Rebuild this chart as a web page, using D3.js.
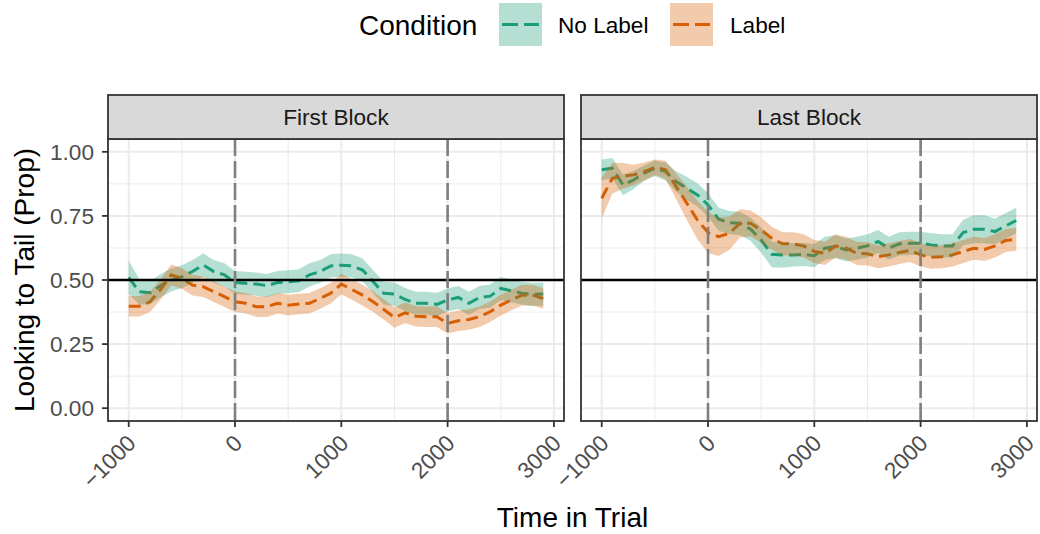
<!DOCTYPE html>
<html>
<meta charset="utf-8">
<style>
  body { margin: 0; background: #fff; }
  text { font-family: "Liberation Sans", Arial, sans-serif; }
  .grid-major { stroke: #ebebeb; stroke-width: 2; }
  .grid-minor { stroke: #ebebeb; stroke-width: 1; }
</style>
<body>
<script src="https://d3js.org/d3.v7.min.js"></script>
<script>
  let width = 1040, height = 534;

  // time bins, ms
  let times = d3.range(-1000, 3000, 100);
  let conditions = ["No Label", "Label"];
  let colors = ["#1B9E77", "#D95F02"];
  let blocks = ["First Block", "Last Block"];
  let xTicks = [-1000, 0, 1000, 2000, 3000];
  let yTicks = [0, 0.25, 0.5, 0.75, 1];

  // First Block
  let firstNoLabel = [0.51, 0.454, 0.45, 0.478, 0.50, 0.513, 0.533, 0.559, 0.533, 0.52,
    0.49, 0.487, 0.484, 0.478, 0.49, 0.493, 0.497, 0.52, 0.533, 0.555,
    0.558, 0.555, 0.539, 0.493, 0.448, 0.445, 0.424, 0.409, 0.409, 0.405,
    0.422, 0.432, 0.409, 0.432, 0.437, 0.467, 0.458, 0.448, 0.444, 0.445];
  let firstNoLabelCI = [0.065, 0.05, 0.045, 0.045, 0.045, 0.045, 0.045, 0.045, 0.045, 0.045,
    0.045, 0.045, 0.045, 0.045, 0.045, 0.045, 0.045, 0.045, 0.045, 0.045,
    0.045, 0.045, 0.045, 0.045, 0.045, 0.045, 0.045, 0.045, 0.045, 0.045,
    0.045, 0.045, 0.045, 0.045, 0.045, 0.045, 0.045, 0.045, 0.045, 0.045];
  let firstLabel = [0.398, 0.398, 0.415, 0.463, 0.52, 0.506, 0.48, 0.474, 0.454, 0.435,
    0.415, 0.409, 0.396, 0.396, 0.409, 0.402, 0.406, 0.409, 0.428, 0.448,
    0.484, 0.463, 0.441, 0.415, 0.385, 0.354, 0.372, 0.359, 0.357, 0.357,
    0.331, 0.341, 0.346, 0.357, 0.376, 0.402, 0.422, 0.441, 0.441, 0.428];
  let firstLabelCI = [0.04, 0.04, 0.04, 0.04, 0.04, 0.04, 0.04, 0.04, 0.04, 0.04,
    0.04, 0.04, 0.04, 0.04, 0.04, 0.04, 0.04, 0.04, 0.04, 0.04,
    0.04, 0.04, 0.04, 0.04, 0.04, 0.04, 0.04, 0.04, 0.04, 0.04,
    0.04, 0.04, 0.04, 0.04, 0.04, 0.04, 0.04, 0.04, 0.04, 0.04];

  // Last Block
  let lastNoLabel = [0.93, 0.936, 0.871, 0.89, 0.917, 0.936, 0.923, 0.884, 0.858, 0.832,
    0.793, 0.737, 0.724, 0.721, 0.698, 0.656, 0.60, 0.598, 0.598, 0.60,
    0.595, 0.624, 0.63, 0.617, 0.624, 0.633, 0.65, 0.624, 0.641, 0.643,
    0.643, 0.637, 0.633, 0.633, 0.685, 0.698, 0.698, 0.689, 0.711, 0.732];
  let lastNoLabelCI = [0.04, 0.04, 0.04, 0.035, 0.03, 0.03, 0.035, 0.04, 0.045, 0.045,
    0.045, 0.045, 0.045, 0.045, 0.045, 0.05, 0.05, 0.05, 0.045, 0.045,
    0.045, 0.045, 0.045, 0.045, 0.045, 0.045, 0.045, 0.045, 0.045, 0.045,
    0.045, 0.045, 0.045, 0.045, 0.05, 0.055, 0.055, 0.05, 0.05, 0.05];
  let lastLabel = [0.819, 0.897, 0.906, 0.91, 0.923, 0.94, 0.93, 0.865, 0.80, 0.734,
    0.685, 0.669, 0.682, 0.721, 0.721, 0.695, 0.663, 0.641, 0.641, 0.633,
    0.611, 0.604, 0.633, 0.624, 0.604, 0.602, 0.591, 0.598, 0.607, 0.615,
    0.598, 0.589, 0.591, 0.598, 0.611, 0.624, 0.619, 0.633, 0.654, 0.659];
  let lastLabelCI = [0.08, 0.06, 0.05, 0.04, 0.035, 0.03, 0.035, 0.05, 0.065, 0.075,
    0.08, 0.075, 0.065, 0.055, 0.05, 0.05, 0.045, 0.045, 0.045, 0.045,
    0.045, 0.045, 0.045, 0.045, 0.045, 0.045, 0.045, 0.045, 0.045, 0.045,
    0.045, 0.045, 0.045, 0.045, 0.045, 0.045, 0.045, 0.045, 0.045, 0.045];

  let panelData = [
    [{ mean: firstNoLabel, ci: firstNoLabelCI }, { mean: firstLabel, ci: firstLabelCI }],
    [{ mean: lastNoLabel, ci: lastNoLabelCI }, { mean: lastLabel, ci: lastLabelCI }]
  ];

  let svg = d3.select("body").append("svg")
    .attr("width", width)
    .attr("height", height);

  let panelLeft = [108, 581];
  let panelWidth = 456;
  let panelTop = 139, panelBottom = 421;
  let stripTop = 95;

  let y = d3.scaleLinear().domain([-0.05, 1.05]).range([panelBottom, panelTop]);

  function drawPanel(p) {
    let x = d3.scaleLinear().domain([-1195, 3095]).range([panelLeft[p], panelLeft[p] + panelWidth]);
    let g = svg.append("g");

    // minor grid
    [-500, 500, 1500, 2500].forEach(v => {
      g.append("line").attr("class", "grid-minor")
        .attr("x1", x(v)).attr("x2", x(v)).attr("y1", panelTop).attr("y2", panelBottom);
    });
    [0.125, 0.375, 0.625, 0.875].forEach(v => {
      g.append("line").attr("class", "grid-minor")
        .attr("x1", x.range()[0]).attr("x2", x.range()[1]).attr("y1", y(v)).attr("y2", y(v));
    });
    // major grid
    xTicks.forEach(v => {
      g.append("line").attr("class", "grid-major")
        .attr("x1", x(v)).attr("x2", x(v)).attr("y1", panelTop).attr("y2", panelBottom);
    });
    yTicks.forEach(v => {
      g.append("line").attr("class", "grid-major")
        .attr("x1", x.range()[0]).attr("x2", x.range()[1]).attr("y1", y(v)).attr("y2", y(v));
    });

    let line = d3.line().x((d, i) => x(times[i])).y(d => y(d));

    // lines first, ribbons on top (as in the original)
    panelData[p].forEach((s, k) => {
      g.append("path")
        .attr("d", line(s.mean))
        .attr("fill", "none")
        .attr("stroke", colors[k])
        .attr("stroke-width", 3)
        .attr("stroke-dasharray", "12,6");
    });
    panelData[p].forEach((s, k) => {
      let area = d3.area()
        .x((d, i) => x(times[i]))
        .y0((d, i) => y(d - s.ci[i]))
        .y1((d, i) => y(d + s.ci[i]));
      g.append("path")
        .attr("d", area(s.mean))
        .attr("fill", colors[k])
        .attr("fill-opacity", 0.33);
    });

    // reference lines
    g.append("line")
      .attr("x1", x.range()[0]).attr("x2", x.range()[1])
      .attr("y1", y(0.5)).attr("y2", y(0.5))
      .attr("stroke", "#000").attr("stroke-width", 2.6);
    [0, 2000].forEach(v => {
      g.append("line")
        .attr("x1", x(v)).attr("x2", x(v)).attr("y1", panelTop).attr("y2", panelBottom)
        .attr("stroke", "#7f7f7f").attr("stroke-width", 2.6)
        .attr("stroke-dasharray", "17,5");
    });

    // border
    g.append("rect")
      .attr("x", x.range()[0]).attr("y", panelTop)
      .attr("width", panelWidth).attr("height", panelBottom - panelTop)
      .attr("fill", "none").attr("stroke", "#333").attr("stroke-width", 1.8);

    // strip
    g.append("rect")
      .attr("x", x.range()[0]).attr("y", stripTop)
      .attr("width", panelWidth).attr("height", panelTop - stripTop)
      .attr("fill", "#d9d9d9").attr("stroke", "#333").attr("stroke-width", 1.8);
    g.append("text")
      .attr("x", x.range()[0] + panelWidth / 2).attr("y", (stripTop + panelTop) / 2 + 8)
      .attr("text-anchor", "middle")
      .attr("font-size", 22.6).attr("fill", "#1a1a1a")
      .text(blocks[p]);

    // x axis
    xTicks.forEach(v => {
      g.append("line")
        .attr("x1", x(v)).attr("x2", x(v)).attr("y1", panelBottom).attr("y2", panelBottom + 6)
        .attr("stroke", "#333").attr("stroke-width", 1.8);
      g.append("text")
        .attr("transform", `translate(${x(v) - 3},${panelBottom + 12}) rotate(-45)`)
        .attr("text-anchor", "end")
        .attr("dy", "0.72em")
        .attr("font-size", 22.6).attr("fill", "#4d4d4d")
        .text(d3.format("")(v).replace("-", "\u2212"));
    });

    // y axis on left panel only
    if (p === 0) {
      yTicks.forEach(v => {
        g.append("line")
          .attr("x1", x.range()[0] - 6).attr("x2", x.range()[0])
          .attr("y1", y(v)).attr("y2", y(v))
          .attr("stroke", "#333").attr("stroke-width", 1.8);
        g.append("text")
          .attr("x", x.range()[0] - 14).attr("y", y(v) + 8)
          .attr("text-anchor", "end")
          .attr("font-size", 22.6).attr("fill", "#4d4d4d")
          .text(d3.format(".2f")(v));
      });
    }
  }

  drawPanel(0);
  drawPanel(1);

  // axis titles
  svg.append("text")
    .attr("x", (108 + 1037) / 2).attr("y", 527)
    .attr("text-anchor", "middle").attr("font-size", 28)
    .text("Time in Trial");
  svg.append("text")
    .attr("transform", `translate(34,${(panelTop + panelBottom) / 2}) rotate(-90)`)
    .attr("text-anchor", "middle").attr("font-size", 28)
    .text("Looking to Tail (Prop)");

  // legend
  svg.append("text")
    .attr("x", 359).attr("y", 35)
    .attr("font-size", 28)
    .text("Condition");
  let keyX = [499, 670];
  let labelX = [558, 730];
  conditions.forEach((c, k) => {
    svg.append("rect")
      .attr("x", keyX[k]).attr("y", 3).attr("width", 43).attr("height", 43)
      .attr("fill", colors[k]).attr("fill-opacity", 0.33);
    svg.append("line")
      .attr("x1", keyX[k] + 3).attr("x2", keyX[k] + 40)
      .attr("y1", 24.5).attr("y2", 24.5)
      .attr("stroke", colors[k]).attr("stroke-width", 3)
      .attr("stroke-dasharray", "16,6");
    svg.append("text")
      .attr("x", labelX[k]).attr("y", 33)
      .attr("font-size", 22.6)
      .text(c);
  });
</script>
</body>
</html>
